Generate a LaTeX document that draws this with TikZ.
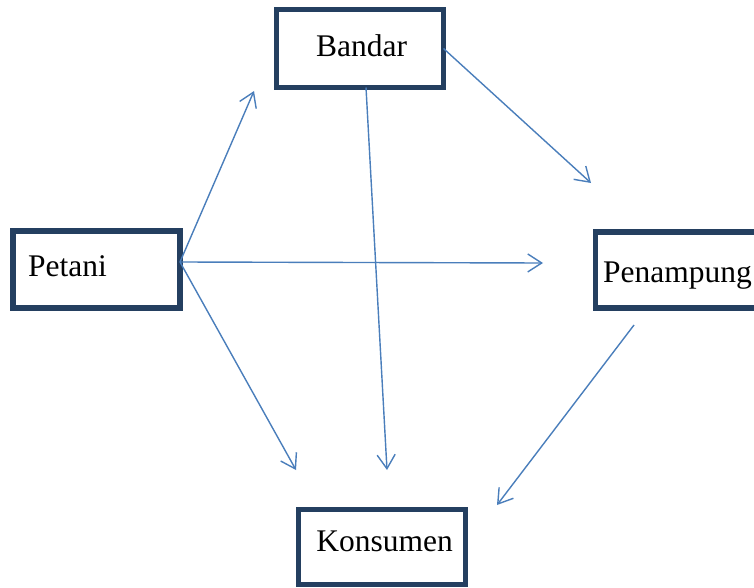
\documentclass[tikz,border=0pt]{standalone}
\usepackage{fontspec}
\setmainfont{Liberation Serif}
\usetikzlibrary{arrows.meta}
\definecolor{boxnavy}{HTML}{243F60}
\definecolor{arrowblue}{HTML}{4A7EBB}
\begin{document}
\begin{tikzpicture}[x=1pt,y=-1pt,
  boxnode/.style={draw=boxnavy, line width=5.5pt, rectangle, minimum width=167pt, inner sep=0pt, outer sep=0pt},
  label/.style={anchor=base, inner sep=0pt, font=\fontsize{31.5}{36}\selectfont},
  flow/.style={draw=arrowblue, line width=1.4pt, -{Straight Barb[length=14pt,width=18pt]}}]
\useasboundingbox (0,0) rectangle (754,588);
\clip (0,0) rectangle (754,588);
\node[boxnode, minimum height=78pt] (bandar) at (360,48.5) {};
\node[boxnode, minimum height=77pt] (petani) at (96.5,269.5) {};
\node[boxnode, minimum height=76pt] (penampung) at (679,270) {};
\node[boxnode, minimum height=75pt] (konsumen) at (382,547) {};
\node[label] (bandarT) at (361.5,56.7) {Bandar};
\node[label, anchor=base west] (petaniT) at (28,276.7) {Petani};
\node[label, anchor=base west] (penampungT) at (603,282.5) {Penampung};
\node[label] (konsumenT) at (384.5,551.7) {Konsumen};
\coordinate (e1) at (254,91);
\coordinate (e2) at (543,263);
\coordinate (e3) at (296,470);
\coordinate (e4) at (387,470);
\coordinate (e5) at (591,183);
\coordinate (s6) at (634,325);
\coordinate (e6) at (497,505);
\draw[flow] ([yshift=7.5pt]petani.east) -- (e1);
\draw[flow] ([yshift=7.5pt]petani.east) -- (e2);
\draw[flow] ([yshift=7.5pt]petani.east) -- (e3);
\draw[flow] ([xshift=6pt]bandar.south) -- (e4);
\draw[flow] (bandar.east) -- (e5);
\draw[flow] (s6) -- (e6);
\end{tikzpicture}
\end{document}
